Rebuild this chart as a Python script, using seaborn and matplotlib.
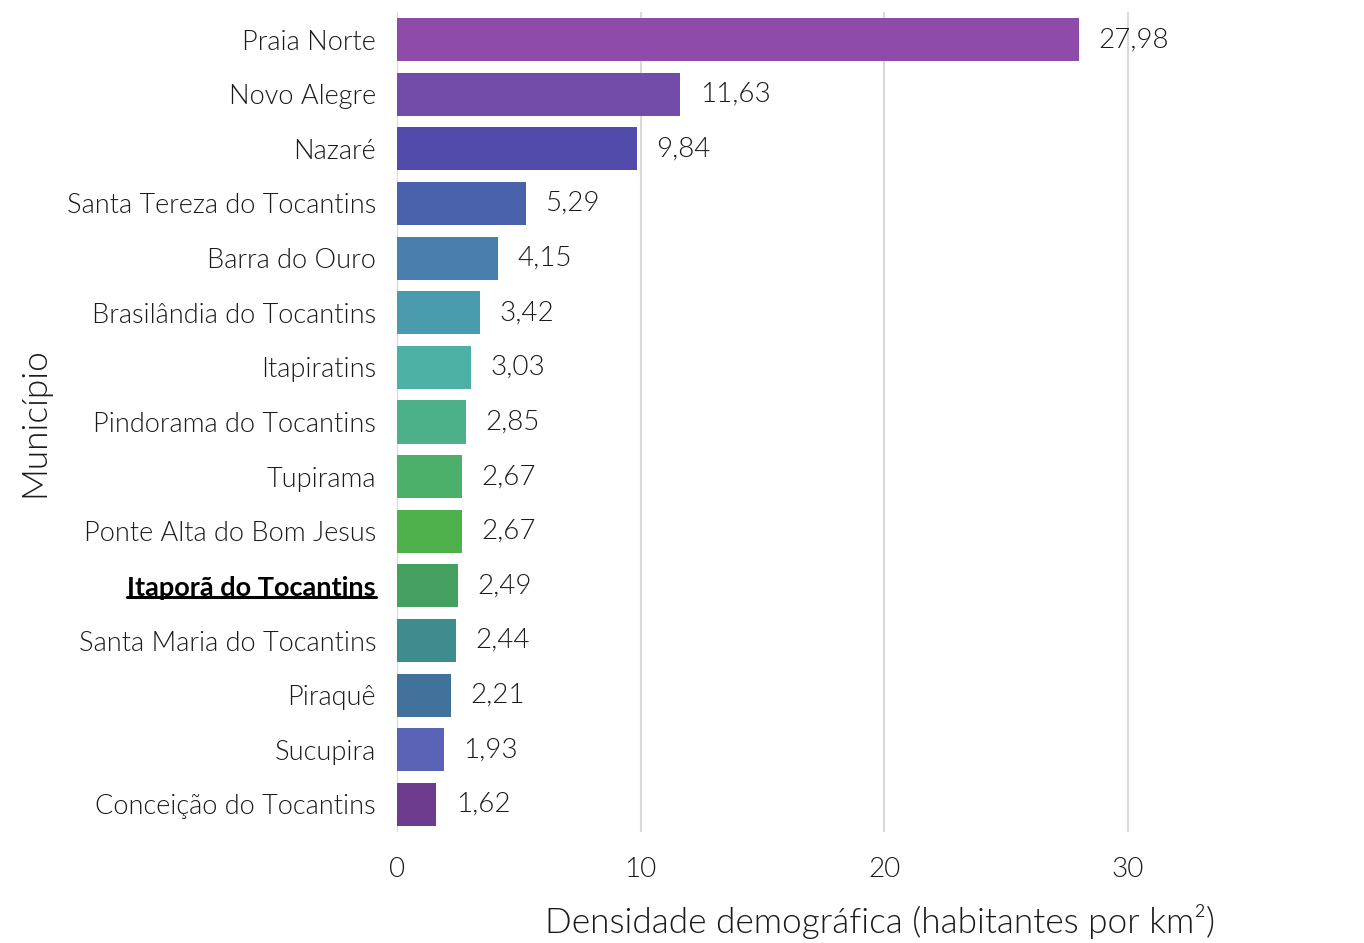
import matplotlib
matplotlib.use("Agg")
import matplotlib.pyplot as plt
import seaborn as sns
import pandas as pd
from matplotlib.lines import Line2D

municipios = ["Praia Norte", "Novo Alegre", "Nazaré", "Santa Tereza do Tocantins",
              "Barra do Ouro", "Brasilândia do Tocantins", "Itapiratins",
              "Pindorama do Tocantins", "Tupirama", "Ponte Alta do Bom Jesus",
              "Itaporã do Tocantins", "Santa Maria do Tocantins", "Piraquê",
              "Sucupira", "Conceição do Tocantins"]
densidade = [27.98, 11.63, 9.84, 5.29, 4.15, 3.42, 3.03, 2.85, 2.67, 2.67,
             2.49, 2.44, 2.21, 1.93, 1.62]
cores = ["#8E4BAA", "#734CAA", "#534BAB", "#4A62AC", "#4A7EAD", "#4A9BAD",
         "#4DB0A5", "#4CB189", "#4CB06B", "#4DB04B", "#45A060", "#3E8C8E",
         "#42729C", "#5A63B6", "#6E3C8E"]
destaque = "Itaporã do Tocantins"
xticks = [0, 10, 20, 30]

df = pd.DataFrame({"Município": municipios, "Densidade": densidade})

sns.set_style("white")
plt.rcParams["font.family"] = ["Lato", "DejaVu Sans"]

W = 300
TXT = "#1a1a1a"

fig = plt.figure(figsize=(13.64, 9.43), dpi=100)
ax = fig.add_axes([0.291, 0.118, 0.709, 0.869])

sns.barplot(data=df, x="Densidade", y="Município", hue="Município",
            palette=cores, legend=False, width=0.79, saturation=1,
            linewidth=0, ax=ax)

for i, v in enumerate(densidade):
    ax.annotate(f"{v:.2f}".replace(".", ","), (v, i), xytext=(14, 0),
                textcoords="offset points", va="center", ha="left",
                fontsize=20, fontweight=W, color=TXT)

ax.set_xlim(0, 39.7)
ax.set_xticks(xticks)
ax.set_xticklabels([str(t) for t in xticks])
ax.grid(axis="x", color="#d9d9d9", linewidth=1.5)
ax.set_axisbelow(True)
for s in ax.spines.values():
    s.set_visible(False)
ax.tick_params(axis="both", length=0)
ax.tick_params(axis="y", pad=15)
ax.tick_params(axis="x", pad=18)
for lbl in ax.get_yticklabels():
    lbl.set_fontsize(19.5)
    lbl.set_fontweight(W)
    lbl.set_color(TXT)
    if lbl.get_text() == destaque:
        lbl.set_fontweight("bold")
        lbl.set_color("black")
for lbl in ax.get_xticklabels():
    lbl.set_fontsize(20)
    lbl.set_fontweight(W)
    lbl.set_color(TXT)

ax.set_xlabel("Densidade demográfica (habitantes por km²)", fontsize=25.3,
              fontweight=W, color=TXT, labelpad=16)
ax.set_ylabel("Município", fontsize=25.3, fontweight=W, color=TXT,
              labelpad=12)

fig.canvas.draw()
renderer = fig.canvas.get_renderer()
for lbl in ax.get_yticklabels():
    if lbl.get_text() == destaque:
        bb = lbl.get_window_extent(renderer)
        inv = fig.transFigure.inverted()
        (x0, y0), (x1, y1) = inv.transform([(bb.x0, bb.y0), (bb.x1, bb.y0)])
        fig.add_artist(Line2D([x0, x1], [y0 + 0.003, y1 + 0.003],
                              color="black", linewidth=2.2))

fig.savefig("out.png", dpi=100)
